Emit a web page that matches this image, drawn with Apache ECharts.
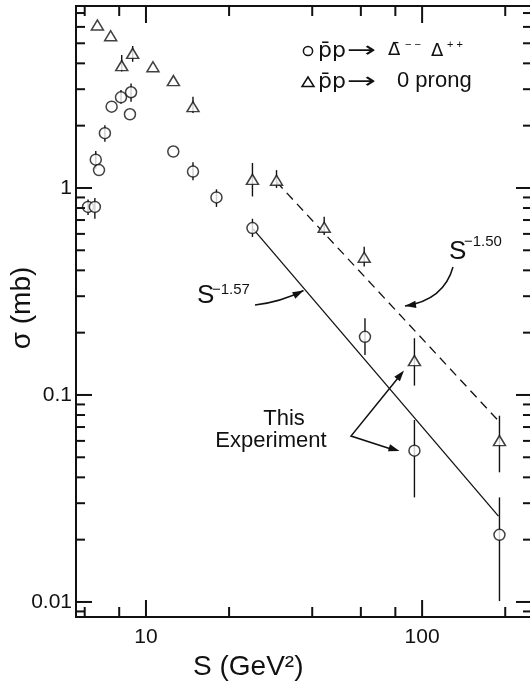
<!DOCTYPE html>
<html>
<head>
<meta charset="utf-8">
<script src="https://cdn.jsdelivr.net/npm/echarts@6/dist/echarts.min.js"></script>
<style>
  html, body { margin: 0; padding: 0; background: #fff; }
  #chart { width: 530px; height: 688px; }
</style>
</head>
<body>
<div id="chart"></div>
<script>
// pbar p -> Delta-bar(--) Delta(++) cross sections
const deltaS     = [6.17, 6.53, 6.58, 6.76, 7.10, 7.51, 8.12, 8.83, 8.75, 12.56, 14.8, 18.0, 24.3, 62.1, 93.8, 190.6];
const deltaSigma = [0.81, 0.81, 1.37, 1.22, 1.84, 2.47, 2.74, 2.90, 2.27, 1.50, 1.20, 0.90, 0.64, 0.191, 0.0538, 0.0211];
const deltaLo    = [0.74, 0.71, 1.24, null, 1.67, null, 2.55, 2.61, null, null, 1.09, 0.81, 0.58, 0.156, 0.032, 0.0101];
const deltaHi    = [0.88, 0.895, 1.51, null, 2.01, null, 2.97, 3.20, null, null, 1.33, 0.985, 0.71, 0.235, 0.0757, 0.032];

// pbar p -> 0 prong cross sections
const prongS     = [6.67, 7.45, 8.17, 8.95, 10.6, 12.57, 14.8, 24.3, 29.7, 44.2, 61.7, 93.8, 190.6];
const prongSigma = [6.13, 5.44, 3.90, 4.47, 3.85, 3.30, 2.47, 1.10, 1.09, 0.646, 0.463, 0.1465, 0.0602];
const prongLo    = [null, null, 3.65, 4.07, null, null, 2.30, 0.91, 1.00, 0.593, 0.417, 0.111, 0.0423];
const prongHi    = [null, null, 4.39, 4.85, null, null, 2.76, 1.32, 1.22, 0.727, 0.52, 0.188, 0.0794];

// power-law fits: S^-1.57 (solid) and S^-1.50 (dashed)
const fitSolidS      = [24.3, 189];
const fitSolidSigma  = [0.64, 0.026];
const fitDashedS     = [29.7, 189];
const fitDashedSigma = [1.07, 0.075];

// axis ranges and ticks
const xRange = [5.58, 250];
const yRange = [0.00846, 7.57];
const xLabels = [10, 100];
const xMajorTicks = [10, 100];
const xMinorTicks = [6, 8, 20, 40, 60, 80, 200];
const yLabels = [0.01, 0.1, 1];
const yMajorTicks = [0.01, 0.1, 1];
const yMinorTicks = [0.009, 0.02, 0.03, 0.04, 0.05, 0.06, 0.07, 0.08, 0.09,
                     0.2, 0.3, 0.4, 0.5, 0.6, 0.7, 0.8, 0.9,
                     2, 3, 4, 5, 6, 7];

const FONT = '"Liberation Sans", Arial, sans-serif';
const DEJAVU = '"DejaVu Sans", sans-serif';
const INK = '#111';

const chart = echarts.init(document.getElementById('chart'), null, { renderer: 'canvas' });

function pairs(xs, ys) { return xs.map((x, i) => [x, ys[i]]); }

function errorBars(xs, lo, hi) {
  const data = [];
  xs.forEach((x, i) => { if (lo[i] != null) data.push([x, lo[i], hi[i]]); });
  return {
    type: 'custom', coordinateSystem: 'cartesian2d', silent: true, z: 2,
    data: data, encode: { x: 0, y: [1, 2] },
    renderItem: function (params, api) {
      const a = api.coord([api.value(0), api.value(1)]);
      const b = api.coord([api.value(0), api.value(2)]);
      return { type: 'line', shape: { x1: a[0], y1: a[1], x2: b[0], y2: b[1] },
               style: { stroke: INK, lineWidth: 1.4 } };
    }
  };
}

// inward ticks on both opposite frame edges
function xTicks(values, len) {
  return {
    type: 'custom', coordinateSystem: 'cartesian2d', silent: true, clip: false, z: 5,
    data: values.map(v => [v, yRange[0]]), encode: { x: 0, y: 1 },
    renderItem: function (params, api) {
      const cs = params.coordSys;
      const x = api.coord([api.value(0), yRange[0]])[0];
      const yb = cs.y + cs.height, yt = cs.y;
      return { type: 'group', children: [
        { type: 'line', shape: { x1: x, y1: yb, x2: x, y2: yb - len }, style: { stroke: INK, lineWidth: 2 } },
        { type: 'line', shape: { x1: x, y1: yt, x2: x, y2: yt + len }, style: { stroke: INK, lineWidth: 2 } }
      ] };
    }
  };
}
function yTicks(values, len) {
  return {
    type: 'custom', coordinateSystem: 'cartesian2d', silent: true, clip: false, z: 5,
    data: values.map(v => [xRange[0], v]), encode: { x: 0, y: 1 },
    renderItem: function (params, api) {
      const cs = params.coordSys;
      const y = api.coord([xRange[0], api.value(1)])[1];
      const xl = cs.x, xr = cs.x + cs.width;
      return { type: 'group', children: [
        { type: 'line', shape: { x1: xl, y1: y, x2: xl + len, y2: y }, style: { stroke: INK, lineWidth: 2 } },
        { type: 'line', shape: { x1: xr, y1: y, x2: xr - len, y2: y }, style: { stroke: INK, lineWidth: 2 } }
      ] };
    }
  };
}

function txt(text, x, y, size, extra, el) {
  return Object.assign({ type: 'text', silent: true, z: 20, style: Object.assign({
    text: text, x: x, y: y, fill: INK, font: size + 'px ' + FONT,
    align: 'left', verticalAlign: 'middle' }, extra || {}) }, el || {});
}
// a long legend arrow: the arrow glyph stretched horizontally
function longArrow(x, y) {
  return txt('\u2192', 0, 0, 22, { font: '22px ' + DEJAVU }, { x: x, y: y, scaleX: 1.6 });
}

function arrowHead(tip, from, len, half) {
  const dx = tip[0] - from[0], dy = tip[1] - from[1];
  const d = Math.sqrt(dx * dx + dy * dy);
  const ux = dx / d, uy = dy / d;
  const bx = tip[0] - ux * len, by = tip[1] - uy * len;
  return { type: 'polygon', silent: true, z: 20,
    shape: { points: [tip, [bx - uy * half, by + ux * half], [bx + uy * half, by - ux * half]] },
    style: { fill: INK } };
}
function curvedArrow(p0, c, p1) {
  return [
    { type: 'bezierCurve', silent: true, z: 20,
      shape: { x1: p0[0], y1: p0[1], cpx1: c[0], cpy1: c[1], x2: p1[0], y2: p1[1] },
      style: { stroke: INK, lineWidth: 1.5, fill: null } },
    arrowHead(p1, c, 11, 3.6)
  ];
}

const markerStyle = { color: '#fff', borderColor: INK, borderWidth: 1.5 };

const graphics = [
  // legend
  { type: 'circle', silent: true, z: 20, shape: { cx: 308, cy: 51, r: 4.6 },
    style: { fill: '#fff', stroke: INK, lineWidth: 1.5 } },
  { type: 'polygon', silent: true, z: 20, shape: { points: [[308, 77], [302, 86.5], [314, 86.5]] },
    style: { fill: '#fff', stroke: INK, lineWidth: 1.5 } },
  txt('p\u0304p', 318, 51, 22, { font: '22px ' + DEJAVU }),
  longArrow(347, 51),
  txt('\u0394\u0304', 388, 50, 18, { font: '18px ' + DEJAVU }),
  txt('\u2212 \u2212', 405, 45, 11),
  txt('\u0394', 431, 51, 18, { font: '18px ' + DEJAVU }),
  txt('+ +', 447, 45, 11),
  txt('p\u0304p', 318, 82, 22, { font: '22px ' + DEJAVU }),
  longArrow(347, 82),
  txt('0 prong', 397, 81, 22),

  // fit labels
  txt('S', 197, 296, 26),
  txt('\u22121.57', 212, 290, 15),
  txt('S', 449, 252, 26),
  txt('\u22121.50', 464, 242, 15),
  ...curvedArrow([255, 305], [281, 302], [303.5, 290.5]),
  ...curvedArrow([453, 267], [444, 300], [405, 306]),

  // experiment label
  txt('This', 284, 419, 22, { align: 'center' }),
  txt('Experiment', 271, 441, 22, { align: 'center' }),
  { type: 'polyline', silent: true, z: 20,
    shape: { points: [[398, 378], [351, 436], [391, 449]] },
    style: { stroke: INK, lineWidth: 1.5, fill: null } },
  arrowHead([404, 370.5], [351, 436], 11, 3.6),
  arrowHead([399.5, 451], [351, 436], 11, 3.6),

  // axis titles
  txt('S (GeV\u00b2)', 193, 667, 28),
  txt('\u03c3 (mb)', 0, 0, 28, { align: 'center' }, { x: 22, y: 308, rotation: Math.PI / 2 })
];

chart.setOption({
  animation: false,
  backgroundColor: '#fff',
  grid: { left: 76, top: 6, right: -2, bottom: 71, containLabel: false, outerBoundsMode: 'none',
          show: true, borderColor: INK, borderWidth: 2, backgroundColor: 'transparent' },
  xAxis: {
    type: 'log', logBase: 10, min: xRange[0], max: xRange[1],
    axisLine: { show: false }, axisTick: { show: false }, splitLine: { show: false },
    minorTick: { show: false }, minorSplitLine: { show: false },
    axisLabel: { customValues: xLabels, color: INK, fontSize: 21, fontFamily: FONT, margin: 10,
                 formatter: v => String(v) }
  },
  yAxis: {
    type: 'log', logBase: 10, min: yRange[0], max: yRange[1],
    axisLine: { show: false }, axisTick: { show: false }, splitLine: { show: false },
    minorTick: { show: false }, minorSplitLine: { show: false },
    axisLabel: { customValues: yLabels, color: INK, fontSize: 21, fontFamily: FONT, margin: 4,
                 formatter: v => String(v) }
  },
  series: [
    xTicks(xMajorTicks, 17), xTicks(xMinorTicks, 10),
    yTicks(yMajorTicks, 16), yTicks(yMinorTicks, 9),
    { type: 'line', data: pairs(fitSolidS, fitSolidSigma), symbol: 'none', silent: true, z: 1,
      lineStyle: { color: INK, width: 1.3 } },
    { type: 'line', data: pairs(fitDashedS, fitDashedSigma), symbol: 'none', silent: true, z: 1,
      lineStyle: { color: INK, width: 1.3, type: [9, 6] } },
    errorBars(deltaS, deltaLo, deltaHi),
    errorBars(prongS, prongLo, prongHi),
    { type: 'scatter', data: pairs(deltaS, deltaSigma), symbol: 'circle', symbolSize: 11,
      itemStyle: markerStyle, silent: true, z: 3 },
    { type: 'scatter', data: pairs(prongS, prongSigma), symbol: 'triangle', symbolSize: [12, 10],
      itemStyle: markerStyle, silent: true, z: 3 }
  ],
  graphic: graphics
});
</script>
</body>
</html>
